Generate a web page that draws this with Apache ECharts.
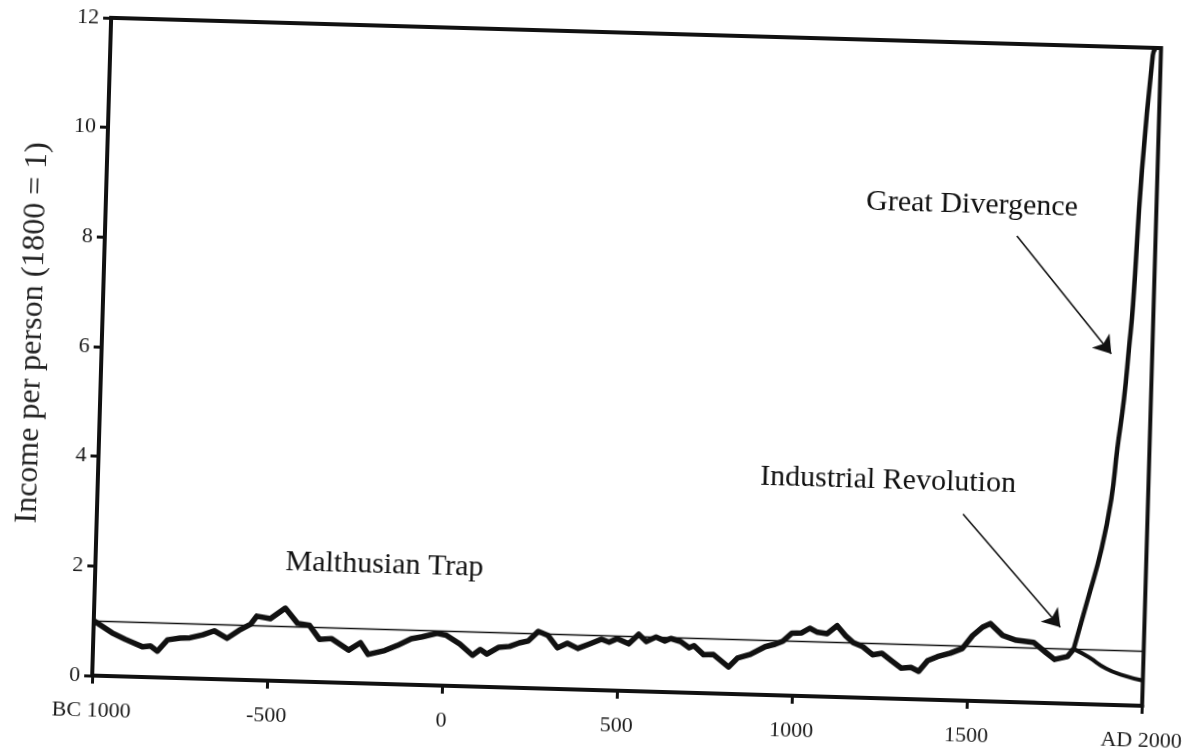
<!DOCTYPE html>
<html>
<head>
<meta charset="utf-8">
<script src="https://cdn.jsdelivr.net/npm/echarts@6/dist/echarts.min.js"></script>
<style>
  html, body { margin: 0; padding: 0; background: #fff; }
  /* the scan is slightly tilted clockwise */
  #chart { width: 1195px; height: 754px; transform: rotate(1.65deg); }
</style>
</head>
<body>
<div id="chart"></div>
<script>
// Malthusian era, BC 1000 - AD 1800
const trapYears = [-1000, -947, -909, -858, -836, -816, -788, -752, -724, -688, -655, -618, -585, -552, -535, -496, -454, -418, -384, -354,
  -320, -270, -237, -214, -167, -131, -92, -61, -19, 8, 47, 84, 106, 125, 159, 189, 217, 242, 270, 298,
  326, 354, 384, 418, 451, 473, 496, 529, 557, 579, 607, 632, 649, 677, 702, 716, 744, 772, 816, 841,
  877, 919, 947, 969, 994, 1022, 1045, 1067, 1095, 1123, 1148, 1170, 1198, 1226, 1253, 1281, 1309, 1337, 1359, 1384,
  1412, 1448, 1482, 1510, 1538, 1560, 1596, 1635, 1685, 1719, 1746, 1783, 1800];
const trapIncome = [1.00, 0.79, 0.68, 0.55, 0.57, 0.48, 0.69, 0.73, 0.74, 0.80, 0.88, 0.75, 0.90, 1.02, 1.17, 1.13, 1.33, 1.06, 1.03, 0.78,
  0.80, 0.60, 0.74, 0.53, 0.61, 0.71, 0.84, 0.88, 0.95, 0.92, 0.77, 0.57, 0.68, 0.60, 0.73, 0.75, 0.82, 0.86, 1.04, 0.97,
  0.75, 0.84, 0.75, 0.84, 0.93, 0.88, 0.95, 0.86, 1.04, 0.91, 1.00, 0.93, 0.98, 0.93, 0.82, 0.86, 0.70, 0.71, 0.49, 0.66,
  0.73, 0.88, 0.93, 0.99, 1.14, 1.15, 1.24, 1.17, 1.15, 1.30, 1.12, 1.00, 0.93, 0.79, 0.82, 0.69, 0.56, 0.58, 0.51, 0.71,
  0.79, 0.86, 0.95, 1.19, 1.35, 1.42, 1.21, 1.13, 1.10, 0.93, 0.80, 0.86, 1.00];

// after 1800: the rich (Great Divergence) and the poor
const richYears = [1800, 1836, 1871, 1895, 1908, 1923, 1933, 1941, 1955, 1977, 1984];
const richIncome = [1.00, 1.91, 2.83, 3.75, 4.67, 5.58, 6.50, 7.30, 9.70, 11.86, 12.0];
const poorYears = [1800, 1843, 1894, 1941, 2000];
const poorIncome = [1.00, 0.86, 0.66, 0.55, 0.46];

const xTicks = { '-1000': 'BC 1000', '2000': 'AD 2000' };
const refLevel = 1; // 1800 = 1

const zip = (xs, ys) => xs.map((x, i) => [x, ys[i]]);
const serif = '"Liberation Serif", "DejaVu Serif", serif';
const ink = '#111';

const chart = echarts.init(document.getElementById('chart'));
chart.setOption({
  backgroundColor: '#fff',
  animation: false,
  grid: { left: 101, right: 17, top: 32, bottom: 64, show: true, borderColor: ink, borderWidth: 4 },
  xAxis: {
    type: 'value', min: -1000, max: 2000, interval: 500,
    axisLine: { onZero: false, lineStyle: { color: ink, width: 4 } },
    axisTick: { length: 8, lineStyle: { color: ink, width: 3 } },
    axisLabel: {
      margin: 24, color: '#1a1a1a', fontFamily: serif, fontSize: 22,
      formatter: v => xTicks[String(v)] || String(v)
    },
    splitLine: { show: false }
  },
  yAxis: {
    type: 'value', min: 0, max: 12, interval: 2,
    axisLine: { show: true, onZero: false, lineStyle: { color: ink, width: 4 } },
    axisTick: { show: true, length: 8, lineStyle: { color: ink, width: 3 } },
    axisLabel: { margin: 12, color: '#1a1a1a', fontFamily: serif, fontSize: 22 },
    splitLine: { show: false }
  },
  graphic: [
    { type: 'text', x: 32, y: 349, rotation: Math.PI / 2,
      style: { text: 'Income per person (1800 = 1)', font: '32px ' + serif, fill: '#222', align: 'center', verticalAlign: 'middle' } },
    { type: 'text', x: 390, y: 571,
      style: { text: 'Malthusian Trap', font: '30px ' + serif, fill: '#111', align: 'center', verticalAlign: 'middle' } },
    { type: 'text', x: 891, y: 472,
      style: { text: 'Industrial Revolution', font: '30px ' + serif, fill: '#111', align: 'center', verticalAlign: 'middle' } },
    { type: 'text', x: 967, y: 194,
      style: { text: 'Great Divergence', font: '30px ' + serif, fill: '#111', align: 'center', verticalAlign: 'middle' } }
  ],
  series: [
    {
      name: 'Malthusian', type: 'line', data: zip(trapYears, trapIncome),
      showSymbol: false, lineStyle: { color: ink, width: 5.5, join: 'round' },
      markLine: {
        silent: true, symbol: ['none', 'arrow'], symbolSize: 17,
        label: { show: false },
        lineStyle: { color: ink, width: 1.6, type: 'solid' },
        data: [
          [{ coord: [1473, 3.40] }, { coord: [1760, 1.39] }],
          [{ coord: [1604, 8.50] }, { coord: [1883, 6.40] }]
        ]
      }
    },
    {
      name: 'Poor', type: 'line', data: zip(poorYears, poorIncome), smooth: true,
      showSymbol: false, lineStyle: { color: ink, width: 4 },
      markLine: {
        silent: true, symbol: 'none', label: { show: false },
        lineStyle: { color: ink, width: 1.3, type: 'solid' },
        data: [{ yAxis: refLevel }]
      }
    },
    {
      name: 'Rich', type: 'line', data: zip(richYears, richIncome), smooth: true,
      showSymbol: false, lineStyle: { color: ink, width: 4.5 }
    }
  ]
});
</script>
</body>
</html>
